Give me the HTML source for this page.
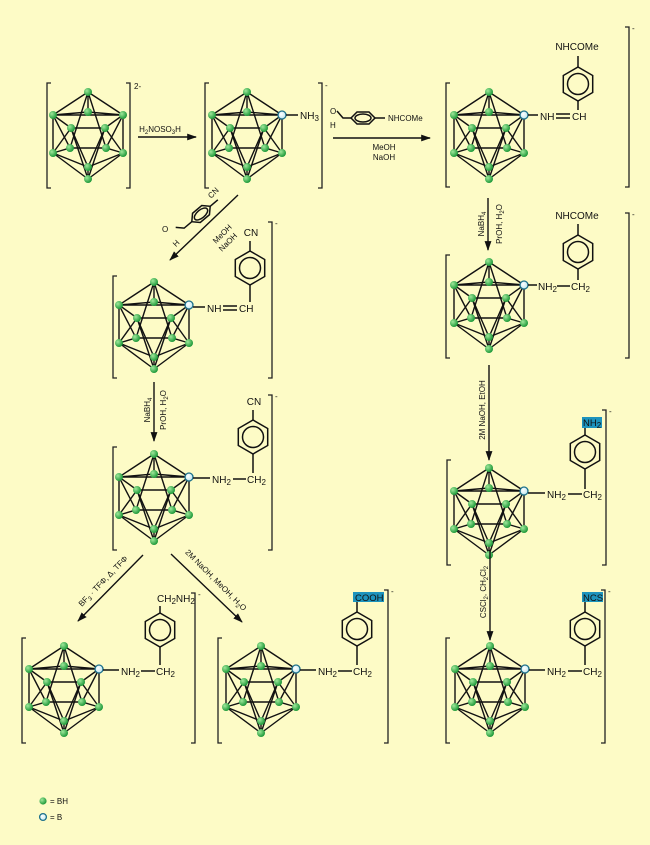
<!DOCTYPE html>
<html><head><meta charset="utf-8"><style>
html,body{margin:0;padding:0;background:#fdfbc6;}
svg{display:block;font-family:"Liberation Sans",sans-serif;}
text{font-size:10px;fill:#111;}
.s{font-size:8px;}
.ln{stroke:#111;stroke-width:1.5;fill:none;}
.br{stroke:#222;stroke-width:1.3;fill:none;}
</style></head><body>
<svg width="650" height="845" viewBox="0 0 650 845" xmlns="http://www.w3.org/2000/svg">
<defs>
<radialGradient id="g" cx="35%" cy="35%" r="65%"><stop offset="0" stop-color="#9fe79a"/><stop offset="1" stop-color="#1f9a3a"/></radialGradient>
<radialGradient id="bl" cx="40%" cy="40%" r="60%"><stop offset="0" stop-color="#ffffff"/><stop offset="1" stop-color="#bfe7f0"/></radialGradient>
<marker id="ah" viewBox="0 0 10 10" refX="9" refY="5" markerWidth="7" markerHeight="7" orient="auto-start-reverse"><path d="M0,1.5 L10,5 L0,8.5 z" fill="#111"/></marker>
<g id="cage">
<g stroke="#111" stroke-width="1.4" fill="none">
<path d="M0,-43 L-35,-20 M0,-43 L35,-20 M0,-43 L0,-23 M0,-43 L-18,13 M0,-43 L18,13"/>
<path d="M-35,-20 L35,-20 M-35,-20 L-17,-7 L17,-7 L35,-20 M-35,-20 L0,-23 L35,-20"/>
<path d="M-35,-20 L-35,18 M35,-20 L35,18 M-35,-20 L-18,13 M35,-20 L18,13 M-17,-7 L-35,18 M17,-7 L35,18 M-17,-7 L0,32 M17,-7 L0,32"/>
<path d="M-35,18 L-18,13 L18,13 L35,18 M-35,18 L0,32 L35,18"/>
<path d="M0,44 L-35,18 M0,44 L35,18 M0,44 L0,32 M0,44 L-17,-7 M0,44 L17,-7"/>
</g>
<g fill="url(#g)">
<circle cx="0" cy="-43" r="4"/><circle cx="-35" cy="-20" r="4"/><circle cx="0" cy="-23" r="4"/>
<circle cx="-17" cy="-7" r="4"/><circle cx="17" cy="-7" r="4"/><circle cx="-18" cy="13" r="4"/><circle cx="18" cy="13" r="4"/>
<circle cx="-35" cy="18" r="4"/><circle cx="35" cy="18" r="4"/><circle cx="0" cy="32" r="4"/><circle cx="0" cy="44" r="4"/>
</g>
</g>
<g id="cageB"><use href="#cage"/><circle cx="35" cy="-20" r="4" fill="url(#bl)" stroke="#1b6f8a" stroke-width="1.3"/></g>
<g id="ring">
<path d="M0,-17 L14.7,-8.5 L14.7,8.5 L0,17 L-14.7,8.5 L-14.7,-8.5 Z" class="ln" stroke-width="1.4"/>
<circle r="10.5" class="ln" stroke-width="1.2"/>
</g>
</defs>

<use href="#cage" x="88" y="135"/><circle cx="123" cy="115" r="4" fill="url(#g)"/>
<use href="#cageB" x="247" y="135"/>
<use href="#cageB" x="489" y="135"/>
<use href="#cageB" x="489" y="305"/>
<use href="#cageB" x="154" y="325"/>
<use href="#cageB" x="154" y="497"/>
<use href="#cageB" x="64" y="689"/>
<use href="#cageB" x="261" y="689"/>
<use href="#cageB" x="489" y="511"/>
<use href="#cageB" x="490" y="689"/>

<g class="br">
<path d="M51,83 H47 V188 H51"/><path d="M126,83 H130 V188 H126"/>
<path d="M209,83 H205 V188 H209"/><path d="M318,83 H322 V188 H318"/>
<path d="M450,83 H446 V187 H450"/><path d="M625,27 H629 V187 H625"/>
<path d="M450,255 H446 V358 H450"/><path d="M625,213 H629 V358 H625"/>
<path d="M117,276 H113 V378 H117"/><path d="M268,222 H272 V378 H268"/>
<path d="M117,447 H113 V550 H117"/><path d="M268,395 H272 V550 H268"/>
<path d="M26,638 H22 V743 H26"/><path d="M191,593 H195 V743 H191"/>
<path d="M222,638 H218 V743 H222"/><path d="M384,590 H388 V743 H384"/>
<path d="M451,460 H447 V565 H451"/><path d="M602,410 H606 V565 H602"/>
<path d="M450,638 H446 V743 H450"/><path d="M601,590 H605 V743 H601"/>
</g>
<text x="134" y="89" class="s">2-</text>
<text x="325" y="88" class="s">-</text>
<text x="632" y="31" class="s">-</text>
<text x="632" y="217" class="s">-</text>
<text x="275" y="226" class="s">-</text>
<text x="275" y="399" class="s">-</text>
<text x="198" y="597" class="s">-</text>
<text x="391" y="594" class="s">-</text>
<text x="609" y="414" class="s">-</text>
<text x="608" y="594" class="s">-</text>

<line x1="286" y1="115" x2="298" y2="115" class="ln"/>
<text x="300" y="119">NH<tspan class="s" dy="2">3</tspan></text>

<line x1="528" y1="115" x2="538" y2="115" class="ln"/>
<text x="540" y="120">NH</text>
<path d="M556,114 H570 M556,118 H570" class="ln" stroke-width="1.2"/>
<text x="572" y="120">CH</text>
<use href="#ring" x="578" y="84"/>
<line x1="578" y1="101" x2="578" y2="110" class="ln"/>
<line x1="578" y1="67" x2="578" y2="56" class="ln"/>
<text x="577" y="50" text-anchor="middle">NHCOMe</text>

<line x1="528" y1="285" x2="537" y2="285" class="ln"/>
<text x="538" y="290">NH<tspan class="s" dy="2">2</tspan></text>
<line x1="557" y1="286" x2="570" y2="286" class="ln"/>
<text x="571" y="290">CH<tspan class="s" dy="2">2</tspan></text>
<use href="#ring" x="578" y="252"/>
<line x1="578" y1="269" x2="578" y2="280" class="ln"/>
<line x1="578" y1="235" x2="578" y2="224" class="ln"/>
<text x="577" y="219" text-anchor="middle">NHCOMe</text>

<line x1="193" y1="307" x2="205" y2="307" class="ln"/>
<text x="207" y="312">NH</text>
<path d="M223,306 H237 M223,310 H237" class="ln" stroke-width="1.2"/>
<text x="239" y="312">CH</text>
<use href="#ring" x="250" y="268"/>
<line x1="250" y1="285" x2="250" y2="302" class="ln"/>
<line x1="250" y1="251" x2="250" y2="241" class="ln"/>
<text x="251" y="236" text-anchor="middle">CN</text>

<line x1="193" y1="478" x2="210" y2="478" class="ln"/>
<text x="212" y="483">NH<tspan class="s" dy="2">2</tspan></text>
<line x1="233" y1="479" x2="246" y2="479" class="ln"/>
<text x="247" y="483">CH<tspan class="s" dy="2">2</tspan></text>
<use href="#ring" x="253" y="437"/>
<line x1="253" y1="454" x2="253" y2="473" class="ln"/>
<line x1="253" y1="420" x2="253" y2="410" class="ln"/>
<text x="254" y="405" text-anchor="middle">CN</text>

<line x1="103" y1="670" x2="119" y2="670" class="ln"/>
<text x="121" y="675">NH<tspan class="s" dy="2">2</tspan></text>
<line x1="141" y1="671" x2="155" y2="671" class="ln"/>
<text x="156" y="675">CH<tspan class="s" dy="2">2</tspan></text>
<use href="#ring" x="160" y="630"/>
<line x1="160" y1="647" x2="160" y2="665" class="ln"/>
<line x1="160" y1="613" x2="160" y2="606" class="ln"/>
<text x="157" y="602">CH<tspan class="s" dy="2">2</tspan><tspan dy="-2">NH</tspan><tspan class="s" dy="2">2</tspan></text>

<line x1="300" y1="670" x2="316" y2="670" class="ln"/>
<text x="318" y="675">NH<tspan class="s" dy="2">2</tspan></text>
<line x1="338" y1="671" x2="352" y2="671" class="ln"/>
<text x="353" y="675">CH<tspan class="s" dy="2">2</tspan></text>
<use href="#ring" x="357" y="629"/>
<line x1="357" y1="646" x2="357" y2="665" class="ln"/>
<line x1="357" y1="612" x2="357" y2="602" class="ln"/>
<rect x="353" y="592" width="31" height="10" fill="#1d93bd"/>
<text x="355" y="601" style="font-size:9.5px">COOH</text>

<line x1="528" y1="493" x2="545" y2="493" class="ln"/>
<text x="547" y="498">NH<tspan class="s" dy="2">2</tspan></text>
<line x1="568" y1="494" x2="582" y2="494" class="ln"/>
<text x="583" y="498">CH<tspan class="s" dy="2">2</tspan></text>
<use href="#ring" x="585" y="452"/>
<line x1="585" y1="469" x2="585" y2="489" class="ln"/>
<line x1="585" y1="435" x2="585" y2="428" class="ln"/>
<rect x="582" y="417" width="20" height="11" fill="#1d93bd"/>
<text x="583" y="426" style="font-size:9.5px">NH<tspan class="s" dy="2">2</tspan></text>

<line x1="529" y1="670" x2="545" y2="670" class="ln"/>
<text x="547" y="675">NH<tspan class="s" dy="2">2</tspan></text>
<line x1="568" y1="671" x2="582" y2="671" class="ln"/>
<text x="583" y="675">CH<tspan class="s" dy="2">2</tspan></text>
<use href="#ring" x="585" y="629"/>
<line x1="585" y1="646" x2="585" y2="665" class="ln"/>
<line x1="585" y1="612" x2="585" y2="602" class="ln"/>
<rect x="582" y="592" width="21" height="10" fill="#1d93bd"/>
<text x="583" y="601" style="font-size:9.5px">NCS</text>

<g stroke="#111" stroke-width="1.4" marker-end="url(#ah)">
<line x1="138" y1="137" x2="196" y2="137"/>
<line x1="333" y1="138" x2="430" y2="138"/>
<line x1="238" y1="195" x2="170" y2="260"/>
<line x1="488" y1="198" x2="488" y2="250"/>
<line x1="154" y1="382" x2="154" y2="441"/>
<line x1="489" y1="365" x2="489" y2="460"/>
<line x1="490" y1="550" x2="490" y2="640"/>
<line x1="143" y1="555" x2="78" y2="621"/>
<line x1="171" y1="554" x2="242" y2="622"/>
</g>
<text x="160" y="132" text-anchor="middle" class="s">H<tspan dy="2" style="font-size:6px">2</tspan><tspan dy="-2">NOSO</tspan><tspan dy="2" style="font-size:6px">3</tspan><tspan dy="-2">H</tspan></text>

<g transform="translate(363,118)">
<path d="M-12,0 L-6,-6 L6,-6 L12,0 L6,6 L-6,6 Z" class="ln" stroke-width="1.3"/>
<ellipse rx="8" ry="4" class="ln" stroke-width="1.1"/>
<path d="M-12,0 L-20,0 L-26,-7 M-20,0 L-26,-7" class="ln" stroke-width="1.2"/>
<line x1="12" y1="0" x2="22" y2="0" class="ln" stroke-width="1.2"/>
</g>
<text x="330" y="114" class="s">O</text>
<text x="330" y="128" class="s">H</text>
<text x="388" y="121" class="s">NHCOMe</text>
<text x="384" y="150" text-anchor="middle" class="s">MeOH</text>
<text x="384" y="160" text-anchor="middle" class="s">NaOH</text>

<g transform="translate(201,214) rotate(-40)">
<path d="M-12,0 L-6,-6 L6,-6 L12,0 L6,6 L-6,6 Z" class="ln" stroke-width="1.3"/>
<ellipse rx="8" ry="4" class="ln" stroke-width="1.1"/>
<line x1="12" y1="0" x2="22" y2="0" class="ln" stroke-width="1.2"/>
<path d="M-12,0 L-22,0 L-28,-6" class="ln" stroke-width="1.2"/>
</g>
<text x="210" y="196" class="s" transform="rotate(-45 214 196)">CN</text>
<text x="162" y="232" class="s">O</text>
<text x="173" y="246" class="s" transform="rotate(-45 176 243)">H</text>
<text x="216" y="244" class="s" transform="rotate(-45 216 244)">MeOH</text>
<text x="222" y="252" class="s" transform="rotate(-45 222 252)">NaOH</text>

<text class="s" transform="translate(484,224) rotate(-90)" text-anchor="middle">NaBH<tspan dy="2" style="font-size:6px">4</tspan></text>
<text class="s" transform="translate(502,224) rotate(-90)" text-anchor="middle">PrOH, H<tspan dy="2" style="font-size:6px">2</tspan><tspan dy="-2">O</tspan></text>
<text class="s" transform="translate(150,410) rotate(-90)" text-anchor="middle">NaBH<tspan dy="2" style="font-size:6px">4</tspan></text>
<text class="s" transform="translate(166,410) rotate(-90)" text-anchor="middle">PrOH, H<tspan dy="2" style="font-size:6px">2</tspan><tspan dy="-2">O</tspan></text>
<text class="s" transform="translate(485,410) rotate(-90)" text-anchor="middle">2M NaOH, EtOH</text>
<text class="s" transform="translate(486,592) rotate(-90)" text-anchor="middle">CSCl<tspan dy="2" style="font-size:6px">2</tspan><tspan dy="-2">, CH</tspan><tspan dy="2" style="font-size:6px">2</tspan><tspan dy="-2">Cl</tspan><tspan dy="2" style="font-size:6px">2</tspan></text>
<text class="s" transform="translate(105,583) rotate(-46)" text-anchor="middle">BF<tspan dy="2" style="font-size:6px">3</tspan><tspan dy="-2"> · TFΦ, Δ, TFΦ</tspan></text>
<text class="s" transform="translate(214,582) rotate(45)" text-anchor="middle">2M NaOH, MeOH, H<tspan dy="2" style="font-size:6px">2</tspan><tspan dy="-2">O</tspan></text>

<circle cx="43" cy="801" r="3.6" fill="url(#g)"/>
<text x="50" y="804" class="s">= BH</text>
<circle cx="43" cy="817" r="3.4" fill="url(#bl)" stroke="#1b6f8a" stroke-width="1.3"/>
<text x="50" y="820" class="s">= B</text>
</svg>
</body></html>
